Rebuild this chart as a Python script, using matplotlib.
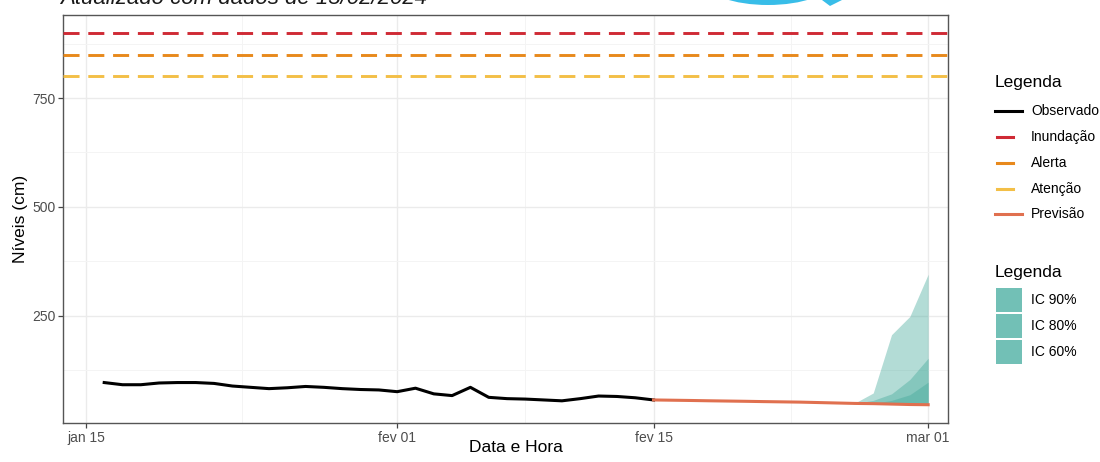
import matplotlib
matplotlib.use("Agg")
import matplotlib.pyplot as plt
from matplotlib.lines import Line2D
from matplotlib.patches import Rectangle, Ellipse, Polygon
import pandas as pd

plt.rcParams['font.family'] = ['Liberation Sans', 'DejaVu Sans']

# Observed daily river levels (cm)
obs_dates = pd.date_range("2024-01-16", "2024-02-15", freq="D")
obs_levels = [96, 91, 91, 95, 96, 96, 94, 88, 85, 82, 84, 87, 85, 82, 80, 79,
              75, 83, 70, 66, 85, 62, 59, 58, 56, 54, 59, 65, 64, 61, 56]

# Forecast and confidence bands (cm)
fc_dates = pd.date_range("2024-02-15", "2024-03-01", freq="D")
fc_levels = [56, 55.4, 54.8, 54.1, 53.5, 52.9, 52.2, 51.6, 51, 50, 49, 48, 47.5, 46.5, 45.5, 45]
ic90_upper = [56, 55.4, 54.8, 54.1, 53.5, 52.9, 52.2, 51.6, 51, 50, 49, 49, 72, 206, 248, 345]
ic80_upper = [56, 55.4, 54.8, 54.1, 53.5, 52.9, 52.2, 51.6, 51, 50, 49, 48, 55, 70, 103, 152]
ic60_upper = [56, 55.4, 54.8, 54.1, 53.5, 52.9, 52.2, 51.6, 51, 50, 49, 48, 48, 55, 68, 97]

# Alert thresholds (cm)
thr_names = ["Inundação", "Alerta", "Atenção"]
thr_values = [900, 850, 800]
thr_colors = ["#cf2a35", "#e8891c", "#f3bf47"]

band_labels = ["IC 90%", "IC 80%", "IC 60%"]
xtick_dates = pd.to_datetime(["2024-01-15", "2024-02-01", "2024-02-15", "2024-03-01"])
xtick_labels = ["jan 15", "fev 01", "fev 15", "mar 01"]
xminor_dates = pd.to_datetime(["2024-01-23 12:00", "2024-02-08 00:00", "2024-02-22 12:00"])
yticks = [250, 500, 750]

W, H = 1100, 462
fig = plt.figure(figsize=(W / 100, H / 100), dpi=100)
ax = fig.add_axes([63 / W, 1 - 423 / H, (948 - 63) / W, (423 - 15) / H])

def fx(px):
    return px / W

def fy(py):
    return 1 - py / H

band_color = "#41a899"
for up in [ic90_upper, ic80_upper, ic60_upper]:
    ax.fill_between(fc_dates, fc_levels, up, color=band_color, alpha=0.4, lw=0, zorder=2)

for v, c in zip(thr_values, thr_colors):
    ax.axhline(v, color=c, lw=2.1, dashes=(5.5, 3.0), zorder=3)

ax.plot(obs_dates, obs_levels, color="black", lw=2.2, zorder=4, solid_joinstyle="round")
ax.plot(fc_dates, fc_levels, color="#e0704f", lw=2.2, zorder=4)

ax.set_xlim(pd.Timestamp("2024-01-13 18:00"), pd.Timestamp("2024-03-02 02:00"))
ax.set_ylim(3, 941)

ax.set_xticks(xtick_dates)
ax.set_xticklabels(xtick_labels)
ax.set_xticks(xminor_dates, minor=True)
ax.set_yticks(yticks)
ax.set_yticks([125, 375, 625, 875], minor=True)

ax.grid(which="major", color="#ebebeb", lw=1.0, zorder=0)
ax.grid(which="minor", color="#f4f4f4", lw=0.7, zorder=0)
ax.set_axisbelow(True)
ax.tick_params(which="major", length=3.5, width=0.9, color="#444444",
               labelsize=10, labelcolor="#4d4d4d", pad=2)
ax.tick_params(which="minor", length=0)
for s in ax.spines.values():
    s.set_color("#555555")
    s.set_linewidth(1.0)

ax.set_xlabel("Data e Hora", fontsize=12.5, color="black", va="center")
ax.xaxis.set_label_coords((516 - 63) / 885, (423 - 447) / 408)
ax.set_ylabel("Níveis (cm)", fontsize=12.5, color="black", labelpad=3)

# Subtitle (partly off the top edge)
fig.text(fx(60), fy(4), "Atualizado com dados de 15/02/2024", fontsize=16,
         style="italic", ha="left", va="baseline", color="#1a1a1a")

# Logo fragment at the top edge
fig.add_artist(Ellipse((fx(768), fy(-18)), 126 / W, 46 / H, color="#38bde8", lw=0))
fig.add_artist(Ellipse((fx(768), fy(-21)), 104 / W, 42 / H, color="white", lw=0))
fig.add_artist(Polygon([(fx(822), fy(0)), (fx(842), fy(0)), (fx(830), fy(6))],
                       closed=True, color="#38bde8", lw=0))

# First legend: lines
fig.text(fx(995), fy(83), "Legenda", fontsize=12.5, ha="left", va="center")
line_entries = [("Observado", "black", 995, 1022),
                (thr_names[0], thr_colors[0], 997, 1013),
                (thr_names[1], thr_colors[1], 997, 1013),
                (thr_names[2], thr_colors[2], 997, 1013),
                ("Previsão", "#e0704f", 995, 1022)]
ys = [111, 137, 163, 189, 214]
for (lab, col, x0, x1), y in zip(line_entries, ys):
    fig.add_artist(Line2D([fx(x0), fx(x1)], [fy(y), fy(y)], color=col, lw=2.2,
                          transform=fig.transFigure))
    fig.text(fx(1031), fy(y), lab, fontsize=10, ha="left", va="center")

# Second legend: bands
fig.text(fx(995), fy(272), "Legenda", fontsize=12.5, ha="left", va="center")
for lab, (y0, y1) in zip(band_labels, [(288, 312), (314, 338), (340, 364)]):
    fig.add_artist(Rectangle((fx(996), fy(y1)), 26 / W, (y1 - y0) / H,
                             color="#72c0b6", lw=0, transform=fig.transFigure))
    fig.text(fx(1031), fy((y0 + y1) / 2), lab, fontsize=10, ha="left", va="center")

fig.savefig("out.png", dpi=100)
